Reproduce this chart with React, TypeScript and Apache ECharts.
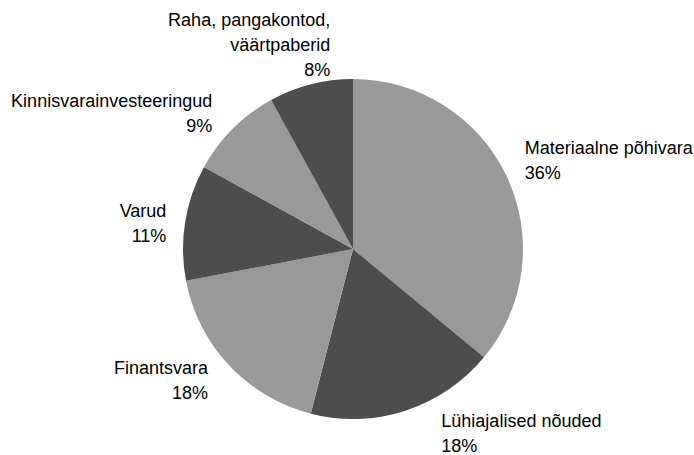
import React, { useEffect, useRef } from "react";
import * as echarts from "echarts";

const categories = [
  "Materiaalne põhivara",
  "Lühiajalised nõuded",
  "Finantsvara",
  "Varud",
  "Kinnisvarainvesteeringud",
  "Raha, pangakontod, väärtpaberid",
];
const shares = [36, 18, 18, 11, 9, 8];
const sliceColors = ["#999999", "#4d4d4d", "#999999", "#4d4d4d", "#999999", "#4d4d4d"];
// small label nudges (px) relative to the default outside placement
const labelNudge: [number, number][] = [
  [-7, -7],
  [24, 2],
  [0, 0],
  [8, 5],
  [0, 0],
  [30, -18],
];

function wrapName(n: string): string {
  if (n.length > 25) {
    const i = n.lastIndexOf(", ");
    if (i > 0) return n.slice(0, i + 1) + "\n" + n.slice(i + 2);
  }
  return n;
}

export default function App() {
  const ref = useRef<HTMLDivElement>(null);
  useEffect(() => {
    document.body.style.margin = "0";
    const chart = echarts.init(ref.current!, null, { renderer: "svg" });
    chart.setOption({
      animation: false,
      backgroundColor: "#ffffff",
      series: [
        {
          type: "pie",
          center: [353, 249],
          radius: [0, 170],
          startAngle: 90,
          clockwise: true,
          avoidLabelOverlap: false,
          itemStyle: { borderWidth: 0 },
          label: {
            show: true,
            position: "outside",
            color: "#000000",
            fontFamily: "Liberation Sans, Arial, sans-serif",
            fontSize: 18,
            lineHeight: 25,
            distanceToLabelLine: 5,
            formatter: (p: any) => `${wrapName(p.name)}\n${p.value}%`,
          },
          labelLine: { show: false, length: 22, length2: 0 },
          labelLayout: (p: any) => {
            const n = labelNudge[p.dataIndex] || [0, 0];
            return { dx: n[0], dy: n[1] };
          },
          emphasis: { disabled: true },
          data: categories.map((c, i) => ({
            name: c,
            value: shares[i],
            itemStyle: { color: sliceColors[i] },
          })),
        },
      ],
    });
    return () => chart.dispose();
  }, []);
  return <div ref={ref} style={{ width: 694, height: 455 }} />;
}
